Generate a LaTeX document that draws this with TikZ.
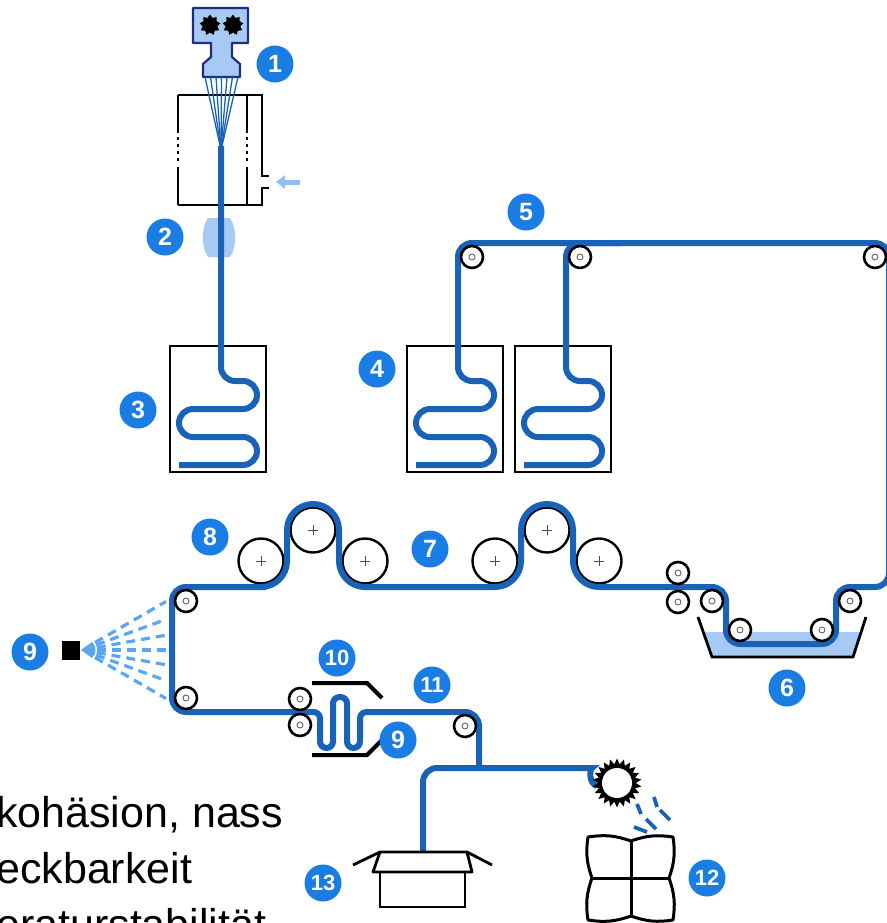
\documentclass[tikz,border=0pt]{standalone}
\usepackage{fontspec}
\setmainfont{Liberation Sans}
\usepackage{tikz}
\usetikzlibrary{arrows.meta, shapes.geometric}
\definecolor{fiber}{HTML}{1862B8}
\definecolor{badgeblue}{HTML}{1A7DE3}
\definecolor{pale}{HTML}{A6CAF4}
\definecolor{spraycol}{HTML}{5BA6EE}
\definecolor{airflow}{HTML}{8EC1F3}
\definecolor{navy}{HTML}{1E2D7D}

\begin{document}
\begin{tikzpicture}[x=1pt, y=-1pt,
    yarn/.style={draw=fiber, line width=6pt},
    wall/.style={draw=black, line width=2.8pt},
    roller/.style={circle, draw=black, line width=2.6pt, fill=white, minimum size=22pt, inner sep=0pt,
                   path picture={\draw[black!60, line width=0.9pt] (path picture bounding box.center) circle (3pt);}},
    godet/.style={circle, draw=black, line width=2.4pt, fill=white, minimum size=45pt, inner sep=0pt,
                  path picture={\draw[black!70, line width=0.8pt]
                    ([xshift=-5pt]path picture bounding box.center) -- ([xshift=5pt]path picture bounding box.center)
                    ([yshift=-5pt]path picture bounding box.center) -- ([yshift=5pt]path picture bounding box.center);}},
    badge/.style={circle, fill=badgeblue, text=white, minimum size=37pt, inner sep=0pt,
                  font=\fontsize{25}{25}\selectfont\bfseries},
    badgetwo/.style={badge, font=\fontsize{22}{22}\selectfont\bfseries},
    spray/.style={draw=spraycol, line width=3.2pt, dash pattern=on 9pt off 6pt},
    notetext/.style={anchor=base west, inner sep=0pt, font=\fontsize{43}{50}\selectfont}
  ]
    \useasboundingbox (0,0) rectangle (886,923);

    % spinneret and quench chamber
    \draw[fill=pale, draw=navy, line width=2.2pt, line join=round]
      (193,8) -- (248,8) -- (248,43) -- (232,43) -- (232,57) -- (240,64) -- (240,77)
      -- (203,77) -- (203,64) -- (211,57) -- (211,43) -- (193,43) -- cycle;
    \node[star, star points=9, star point ratio=1.4, fill=black, minimum size=21pt, inner sep=0pt] (gearL) at (210,25) {};
    \node[star, star points=9, star point ratio=1.4, fill=black, minimum size=21pt, inner sep=0pt] (gearR) at (233,25) {};

    \draw[wall] (178,95) -- (262,95) -- (262,176) -- (269,176);
    \draw[wall] (269,188) -- (262,188) -- (262,205) -- (178,205);
    \foreach \wx in {178, 247} {
      \draw[wall] (\wx,95) -- (\wx,133);
      \draw[wall, dash pattern=on 3pt off 4pt] (\wx,137) -- (\wx,163);
      \draw[wall] (\wx,167) -- (\wx,205);
    }
    \draw[airflow, line width=5pt, -{Triangle[length=9pt, width=13pt]}] (300,182) -- (276,182);

    \fill[pale] (208,218) -- (230,218) .. controls (237,228) and (237,247) .. (230,257)
      -- (208,257) .. controls (201,247) and (201,228) .. (208,218) -- cycle;

    \foreach \k in {0,...,6}
      \draw[fiber, line width=1.3pt] ({205+5.5*\k},77) -- (221,150);

    % baths
    \foreach \tx in {170, 407, 515}
      \draw[wall] (\tx,346) rectangle ++(96,126);
    \fill[pale] (703,632) -- (861,632) -- (853,657) -- (712,657) -- cycle;
    \draw[wall] (698,617) -- (712,657) -- (853,657) -- (866,617);

    % godets
    \node[godet] (gA) at (261,561) {};
    \node[godet] (gB) at (313,530) {};
    \node[godet] (gC) at (365,561) {};
    \node[godet] (gD) at (495,561) {};
    \node[godet] (gE) at (547,530) {};
    \node[godet] (gF) at (599,561) {};

    % yarn
    \draw[yarn, rounded corners=14pt] (221,146) -- (221,381) -- (257,381) -- (257,409) -- (179,409)
      -- (179,437) -- (257,437) -- (257,465) -- (179,465);
    \draw[yarn, rounded corners=14pt] (524,465) -- (602,465) -- (602,437) -- (524,437) -- (524,409)
      -- (602,409) -- (602,381) -- (566,381) -- (566,243) -- (620,243);
    \draw[yarn, rounded corners=14pt]
      (416,465) -- (494,465) -- (494,437) -- (416,437) -- (416,409) -- (494,409) -- (494,381) -- (458,381)
      -- (458,243) -- (889,243) -- (889,587) -- (836,587) -- (836,644) -- (726,644) -- (726,587) -- (650,587)
      [rounded corners=26pt] -- (573,587) -- (573,504) -- (521,504) -- (521,587) -- (339,587) -- (339,504)
      -- (287,504) -- (287,587) -- (240,587)
      [rounded corners=14pt] -- (172,587) -- (172,712) -- (250,712)
      [rounded corners=6.5pt] -- (320,712) -- (320,748) -- (333,748) -- (333,697) -- (347,697) -- (347,748)
      -- (360,748) -- (360,712) -- (400,712)
      [rounded corners=14pt] -- (479,712) -- (479,768);
    \draw[yarn, rounded corners=14pt] (423,852) -- (423,768) -- (578,768) .. controls (590,768) and (588,783) .. (597,786);

    % rollers
    \node[roller] (rT1) at (472,257) {};
    \node[roller] (rT2) at (580,257) {};
    \node[roller] (rT3) at (875,257) {};
    \node[roller] (rW1) at (850,601) {};
    \node[roller] (rW2) at (822,630) {};
    \node[roller] (rW3) at (740,630) {};
    \node[roller] (rW4) at (712,601) {};
    \node[roller] (rN1) at (678,573) {};
    \node[roller] (rN2) at (678,602) {};
    \node[roller] (rL1) at (186,601) {};
    \node[roller] (rL2) at (186,698) {};
    \node[roller] (rH1) at (300,699) {};
    \node[roller] (rH2) at (300,725) {};
    \node[roller] (rO)  at (465,726) {};

    % heater, spray, cutter, bale, carton
    \draw[black, line width=4pt] (312,683) -- (367,683) -- (382,698);
    \draw[black, line width=4pt] (312,755) -- (367,755) -- (381,741);

    \fill[black] (62,641) rectangle (80,660);
    \fill[spraycol] (81,650) -- (92,642) to[bend left=50] (92,658) -- cycle;
    \foreach \a in {-30,-20,...,30}
      \draw[spray] (82,650) ++(\a:15) -- ++(\a:{84/cos(\a)-15});

    \node[star, star points=22, star point ratio=1.3, fill=black, minimum size=49pt, inner sep=0pt] (sun) at (617,783) {};
    \fill[white] (sun.center) circle (15pt);
    \draw[fiber, line width=3.8pt] (654,797) -- (657,807) (637,804) -- (641,814) (660,810) -- (670,820)
      (646,819) -- (656,829) (634,827) -- (647,832);

    \draw[black, line width=3pt, line cap=round, line join=round]
      (588,837) to[bend left=14] (631,841) to[bend left=14] (673,837) to[bend left=14] (669,878)
      to[bend left=14] (673,920) to[bend left=14] (631,916) to[bend left=14] (588,920)
      to[bend left=14] (592,878) to[bend left=14] (588,837);
    \draw[black, line width=3pt] (631,841) -- (631,916) (592,878) -- (669,878);

    \draw[wall] (380,872) rectangle (465,907);
    \draw[wall, line join=round] (353,865) -- (380,852) -- (467,852) -- (492,865);
    \draw[wall, line join=round] (380,852) -- (373,872) -- (472,872) -- (467,852);

    % step numbers
    \node[badge]    (b1)  at (275,64)  {1};
    \node[badge]    (b2)  at (165,237) {2};
    \node[badge]    (b3)  at (138,410) {3};
    \node[badge]    (b4)  at (377,369) {4};
    \node[badge]    (b5)  at (526,212) {5};
    \node[badge]    (b6)  at (787,688) {6};
    \node[badge]    (b7)  at (430,549) {7};
    \node[badge]    (b8)  at (210,537) {8};
    \node[badge]    (b9)  at (30,652)  {9};
    \node[badge]    (b9b) at (398,740) {9};
    \node[badgetwo] (b10) at (337,658) {10};
    \node[badgetwo] (b11) at (432,685) {11};
    \node[badgetwo] (b12) at (707,878) {12};
    \node[badgetwo] (b13) at (323,883) {13};

    \node[notetext] (t1) at (-4,827) {kohäsion, nass};
    \node[notetext] (t2) at (-4,883) {eckbarkeit};
    \node[notetext] (t3) at (-4,939) {eraturstabilität};
  \end{tikzpicture}
\end{document}
